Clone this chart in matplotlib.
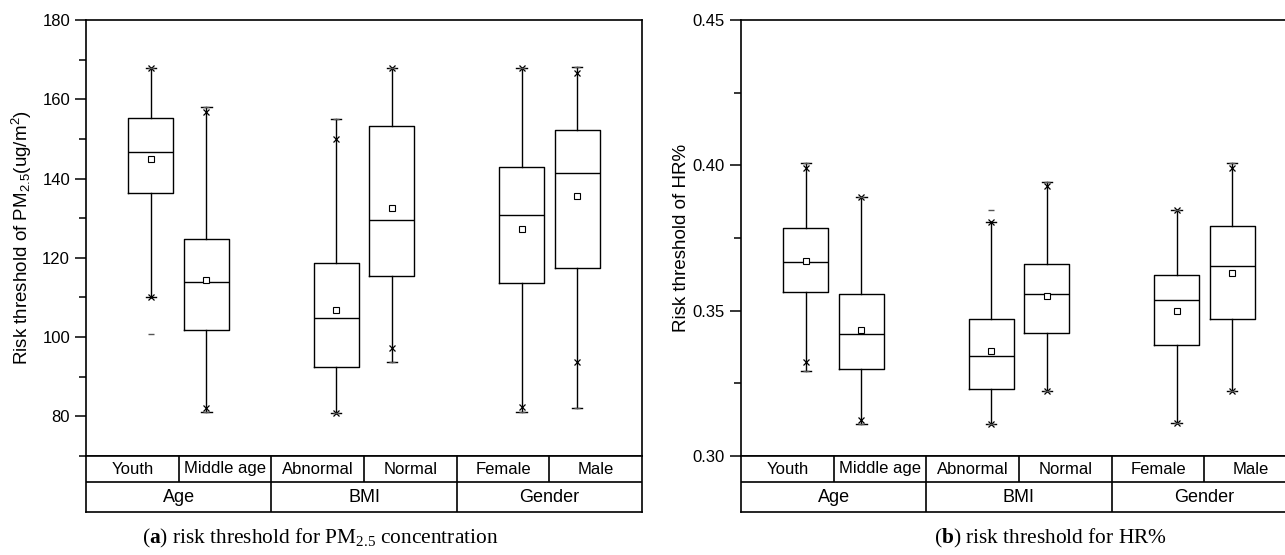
import matplotlib
matplotlib.use("Agg")
import matplotlib.pyplot as plt
from matplotlib.ticker import MultipleLocator, FormatStrFormatter

plt.rcParams['font.family'] = ['Liberation Sans', 'DejaVu Sans']
plt.rcParams['mathtext.fontset'] = 'custom'
plt.rcParams['mathtext.rm'] = 'Liberation Serif'
plt.rcParams['mathtext.bf'] = 'Liberation Serif:bold'

categories = ["Youth", "Middle age", "Abnormal", "Normal", "Female", "Male"]
groups = ["Age", "BMI", "Gender"]

# (a) PM2.5 risk threshold
pm_q1 = [136.4, 101.8, 92.4, 115.4, 113.7, 117.4]
pm_med = [146.6, 113.8, 104.8, 129.5, 130.7, 141.4]
pm_q3 = [155.2, 124.7, 118.8, 153.3, 142.8, 152.3]
pm_mean = [145.0, 114.3, 106.9, 132.5, 127.3, 135.6]
pm_whislo = [110.2, 81.0, 80.9, 93.7, 81.0, 82.2]
pm_whishi = [168.0, 158.1, 155.0, 168.0, 168.0, 168.1]
pm_p1 = [110.2, 82.2, 80.9, 97.2, 82.4, 93.6]
pm_p99 = [167.8, 156.7, 149.9, 168.0, 167.8, 166.7]
pm_min = [100.8, 81.0, 80.9, 93.7, 81.0, 82.2]
pm_max = [168.0, 158.1, 155.0, 168.0, 168.0, 168.1]

# (b) HR% risk threshold
hr_q1 = [0.3564, 0.3300, 0.3231, 0.3422, 0.3381, 0.3471]
hr_med = [0.3666, 0.3420, 0.3343, 0.3557, 0.3538, 0.3653]
hr_q3 = [0.3786, 0.3557, 0.3472, 0.3659, 0.3623, 0.3790]
hr_mean = [0.3671, 0.3435, 0.3362, 0.3552, 0.3498, 0.3630]
hr_whislo = [0.3294, 0.3110, 0.3110, 0.3224, 0.3112, 0.3224]
hr_whishi = [0.4007, 0.3890, 0.3806, 0.3942, 0.3845, 0.4007]
hr_p1 = [0.3325, 0.3124, 0.3110, 0.3224, 0.3115, 0.3224]
hr_p99 = [0.3991, 0.3890, 0.3806, 0.3930, 0.3845, 0.3991]
hr_min = [0.3294, 0.3110, 0.3110, 0.3224, 0.3112, 0.3224]
hr_max = [0.4007, 0.3890, 0.3845, 0.3942, 0.3845, 0.4007]

positions = [0.7, 1.3, 2.7, 3.3, 4.7, 5.3]
LW = 1.0


def draw_panel(ax, q1, med, q3, mean, wlo, whi, p1, p99, mn, mx):
    stats = []
    for i in range(len(categories)):
        stats.append(dict(q1=q1[i], med=med[i], q3=q3[i], mean=mean[i],
                          whislo=wlo[i], whishi=whi[i], fliers=[]))
    ax.bxp(stats, positions=positions, widths=0.485, capwidths=0.11,
           showmeans=True, showfliers=False, manage_ticks=False,
           boxprops=dict(color='black', linewidth=LW),
           medianprops=dict(color='black', linewidth=LW),
           whiskerprops=dict(color='black', linewidth=LW),
           capprops=dict(color='black', linewidth=LW),
           meanprops=dict(marker='s', markerfacecolor='white',
                          markeredgecolor='black', markersize=4,
                          markeredgewidth=0.8))
    # 1% / 99% markers
    ax.plot(positions, p1, 'x', color='black', ms=5, mew=0.9, ls='none')
    ax.plot(positions, p99, 'x', color='black', ms=5, mew=0.9, ls='none')
    # min / max markers
    ax.plot(positions, mn, '_', color='#555555', ms=4, mew=1.0, ls='none')
    ax.plot(positions, mx, '_', color='#555555', ms=4, mew=1.0, ls='none')
    ax.set_xlim(0, 6)
    ax.set_xticks([])
    for s in ax.spines.values():
        s.set_linewidth(1.2)
    ax.tick_params(axis='y', which='major', direction='out', length=8,
                   width=1.1, labelsize=12)
    ax.tick_params(axis='y', which='minor', direction='out', length=5,
                   width=1.1)


def draw_table(tax):
    tax.set_xlim(0, 6)
    tax.set_ylim(0, 1)
    tax.set_xticks([])
    tax.set_yticks([])
    for s in tax.spines.values():
        s.set_linewidth(1.2)
    split = 30 / 56
    tax.axhline(split, color='black', lw=1.2)
    tax.vlines([1, 3, 5], split, 1, color='black', lw=1.2)
    tax.vlines([2, 4], 0, 1, color='black', lw=1.2)
    for i, c in enumerate(categories):
        tax.text(i + 0.5, (split + 1) / 2, c, ha='center', va='center',
                 fontsize=12)
    for j, g in enumerate(groups):
        tax.text(2 * j + 1, split / 2, g, ha='center', va='center',
                 fontsize=13)


fig = plt.figure(figsize=(12.85, 5.55), dpi=100)

W, H = 1285, 555
ax_w = 556 / W
ax_h = 436 / H
ax_b = 1 - 456 / H
t_b = 1 - 512 / H
t_h = 56 / H

ax1 = fig.add_axes([86 / W, ax_b, ax_w, ax_h])
draw_panel(ax1, pm_q1, pm_med, pm_q3, pm_mean, pm_whislo, pm_whishi,
           pm_p1, pm_p99, pm_min, pm_max)
ax1.set_ylim(70, 180)
ax1.yaxis.set_major_locator(MultipleLocator(20))
ax1.yaxis.set_minor_locator(MultipleLocator(10))
ax1.set_yticks([80, 100, 120, 140, 160, 180])
ax1.set_ylabel(r"Risk threshold of PM$\mathregular{_{2.5}}$(ug/m$\mathregular{^2}$)",
               fontsize=13.5)
ax1.yaxis.set_label_coords(-0.093, 0.5)
tax1 = fig.add_axes([86 / W, t_b, ax_w, t_h])
draw_table(tax1)

ax2 = fig.add_axes([741 / W, ax_b, ax_w, ax_h])
draw_panel(ax2, hr_q1, hr_med, hr_q3, hr_mean, hr_whislo, hr_whishi,
           hr_p1, hr_p99, hr_min, hr_max)
ax2.set_ylim(0.30, 0.45)
ax2.yaxis.set_major_locator(MultipleLocator(0.05))
ax2.yaxis.set_minor_locator(MultipleLocator(0.025))
ax2.yaxis.set_major_formatter(FormatStrFormatter('%.2f'))
ax2.set_ylabel("Risk threshold of HR%", fontsize=13.5)
ax2.yaxis.set_label_coords(-0.092, 0.5)
tax2 = fig.add_axes([741 / W, t_b, ax_w, t_h])
draw_table(tax2)

fig.text(320 / W, 1 - 538 / H,
         r"($\mathbf{a}$) risk threshold for PM$\mathregular{_{2.5}}$ concentration",
         family='Liberation Serif', fontsize=15.4, ha='center', va='center')
fig.text(1050 / W, 1 - 538 / H, r"($\mathbf{b}$) risk threshold for HR%",
         family='Liberation Serif', fontsize=15.4, ha='center', va='center')

fig.savefig("out.png", dpi=100)
